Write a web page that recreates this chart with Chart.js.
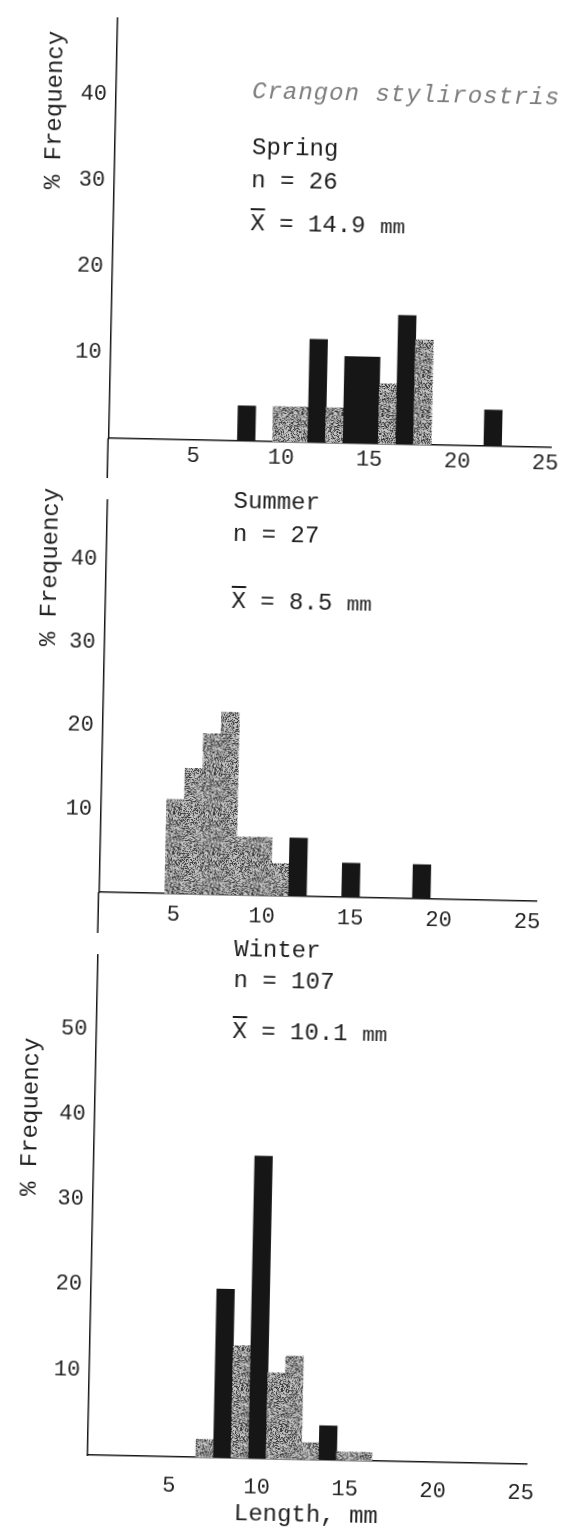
<!DOCTYPE html>
<html>
<head>
<meta charset="utf-8">
<title>Crangon stylirostris length frequency</title>
<script src="https://cdn.jsdelivr.net/npm/chart.js@4.4.1/dist/chart.umd.min.js"></script>
<style>
  html, body { margin: 0; padding: 0; background: #fff; }
  body { width: 572px; height: 1537px; overflow: hidden; position: relative; }
  /* the printed sheet sits a little askew */
  #sheet { position: absolute; left: 0; top: 0; width: 572px; height: 1537px;
           transform: rotate(1.2deg); transform-origin: 286px 768px; }
  #sheet canvas { position: absolute; left: 0; }
  .note { position: absolute; font-family: 'Liberation Mono', monospace; font-size: 24px;
          line-height: 26px; color: #1e1e1e; white-space: pre; }
  .species { font-style: italic; color: #7c7c7c; letter-spacing: 1px; }
  .xbar { text-decoration: overline; }
  .mm { font-size: 21px; }
  .ylab { position: absolute; font-family: 'Liberation Mono', monospace; font-size: 24px;
          color: #1e1e1e; white-space: nowrap; transform: translate(-50%, -50%) rotate(-90deg); }
</style>
</head>
<body>
<div id="sheet"></div>
<script>
// length classes (mm) and % frequency per season
const springLengths = [8, 10, 11, 12, 13, 14, 15, 16, 17, 18, 22];
const springFreq    = [4.1, 4.1, 4.1, 12.0, 4.1, 10.1, 10.1, 7.0, 15.0, 12.2, 4.2];
const springDark    = [8, 12, 14, 15, 17, 22];

const summerLengths = [5, 6, 7, 8, 9, 10, 11, 12, 15, 19];
const summerFreq    = [11.3, 15.1, 19.3, 21.9, 7.0, 7.0, 3.9, 7.0, 4.1, 4.1];
const summerDark    = [12, 15, 19];

const winterLengths = [7, 8, 9, 10, 11, 12, 13, 14, 15, 16];
const winterFreq    = [2.1, 19.8, 13.2, 35.5, 10.1, 12.1, 2.0, 4.0, 1.0, 1.0];
const winterDark    = [8, 10, 14];

const seasons     = ['Spring', 'Summer', 'Winter'];
const sampleSizes = [26, 27, 107];
const meanLengths = ['14.9', '8.5', '10.1'];

const lengthTicks = [5, 10, 15, 20, 25];
const freqTicks   = [10, 20, 30, 40];
const winterTicks = [10, 20, 30, 40, 50];

const INK = '#161616';
const FONT = { family: "'Liberation Mono', monospace", size: 22 };

// speckled grey like a worn photocopy
function makeStipple() {
  const c = document.createElement('canvas');
  c.width = c.height = 40;
  const g = c.getContext('2d');
  const img = g.createImageData(40, 40);
  for (let i = 0; i < 1600; i++) {
    const x = i % 40, y = (i / 40) | 0;
    let h = Math.imul(x, 374761393) + Math.imul(y, 668265263);
    h = Math.imul(h ^ (h >>> 13), 1274126177);
    h = (h ^ (h >>> 16)) >>> 0;
    const r = h % 100;
    const v = r < 25 ? 60 : r < 60 ? 135 : 195;
    img.data[i * 4] = img.data[i * 4 + 1] = img.data[i * 4 + 2] = v;
    img.data[i * 4 + 3] = 255;
  }
  g.putImageData(img, 0, 0);
  return g.createPattern(c, 'repeat');
}
const stipple = makeStipple();

// carry the y axis on down past the baseline
const axisTail = {
  id: 'axisTail',
  afterDraw(chart, args, opts) {
    if (!opts.on) return;
    const { ctx, chartArea } = chart;
    ctx.save();
    ctx.strokeStyle = INK;
    ctx.lineWidth = 1.5;
    ctx.beginPath();
    ctx.moveTo(chartArea.left - 0.75, chartArea.bottom);
    ctx.lineTo(chartArea.left - 0.75, chart.height);
    ctx.stroke();
    ctx.restore();
  }
};

const panels = [
  { top: 0,   height: 482, padTop: 12, padRight: 28, xMin: 0.2,  xMax: 25.3, yMax: 48.86,
    axisH: 40, tickPad: 3,  lengths: springLengths, freq: springFreq, dark: springDark,
    yTicks: freqTicks, tail: true, xTitle: false },
  { top: 482, height: 455, padTop: 0,  padRight: 33, xMin: 0.8,  xMax: 25.5, yMax: 47.05,
    axisH: 41, tickPad: 8,  lengths: summerLengths, freq: summerFreq, dark: summerDark,
    yTicks: freqTicks, tail: true, xTitle: false },
  { top: 937, height: 600, padTop: 0,  padRight: 31, xMin: 0.35, xMax: 25.3, yMax: 58.65,
    axisH: 78, tickPad: 16, lengths: winterLengths, freq: winterFreq, dark: winterDark,
    yTicks: winterTicks, tail: false, xTitle: true }
];

const sheet = document.getElementById('sheet');

panels.forEach(p => {
  const canvas = document.createElement('canvas');
  canvas.width = 572;
  canvas.height = p.height;
  canvas.style.top = p.top + 'px';
  sheet.appendChild(canvas);

  new Chart(canvas, {
    type: 'bar',
    data: {
      datasets: [{
        data: p.lengths.map((x, i) => ({ x: x, y: p.freq[i] })),
        backgroundColor: c => p.dark.includes(c.raw.x) ? INK : stipple,
        borderWidth: 0,
        barPercentage: 1,
        categoryPercentage: 1
      }]
    },
    options: {
      responsive: false,
      animation: false,
      events: [],
      layout: { padding: { top: p.padTop, right: p.padRight, left: 0, bottom: 0 } },
      plugins: {
        legend: { display: false },
        tooltip: { enabled: false },
        axisTail: { on: p.tail }
      },
      scales: {
        x: {
          type: 'linear',
          offset: false,
          min: p.xMin,
          max: p.xMax,
          grid: { display: false, drawTicks: false, offset: false },
          border: { display: true, color: INK, width: 1.5 },
          ticks: { font: FONT, color: '#222', padding: p.tickPad, autoSkip: false, maxRotation: 0 },
          afterBuildTicks: s => { s.ticks = lengthTicks.map(v => ({ value: v })); },
          afterFit: s => { s.height = p.axisH; },
          title: {
            display: p.xTitle,
            text: 'Length, mm',
            color: '#1e1e1e',
            font: { family: "'Liberation Mono', monospace", size: 24 },
            padding: { top: 0, bottom: 8 }
          }
        },
        y: {
          min: 0,
          max: p.yMax,
          grid: { display: false, drawTicks: false },
          border: { display: true, color: INK, width: 1.5 },
          ticks: { font: FONT, color: '#222', padding: 9 },
          afterBuildTicks: s => { s.ticks = p.yTicks.map(v => ({ value: v })); },
          afterFit: s => { s.width = 102; }
        }
      }
    },
    plugins: [axisTail]
  });
});

// free text on the sheet
function note(html, left, top, cls) {
  const d = document.createElement('div');
  d.className = 'note' + (cls ? ' ' + cls : '');
  d.style.left = left + 'px';
  d.style.top = top + 'px';
  d.innerHTML = html;
  sheet.appendChild(d);
}

note('Crangon stylirostris', 238, 80, 'species');

const noteSpots = [
  { left: 239, tops: [136, 169, 212] },
  { left: 228, tops: [490, 523, 590] },
  { left: 238, tops: [938, 969, 1020] }
];
seasons.forEach((s, i) => {
  const spot = noteSpots[i];
  note(s, spot.left, spot.tops[0]);
  note('n = ' + sampleSizes[i], spot.left, spot.tops[1]);
  note('<span class="xbar">X</span> = ' + meanLengths[i] + ' <span class="mm">mm</span>',
       spot.left, spot.tops[2]);
});

[[41, 115], [46, 572], [38, 1122]].forEach(([x, y]) => {
  const d = document.createElement('div');
  d.className = 'ylab';
  d.style.left = x + 'px';
  d.style.top = y + 'px';
  d.textContent = '% Frequency';
  sheet.appendChild(d);
});
</script>
</body>
</html>
